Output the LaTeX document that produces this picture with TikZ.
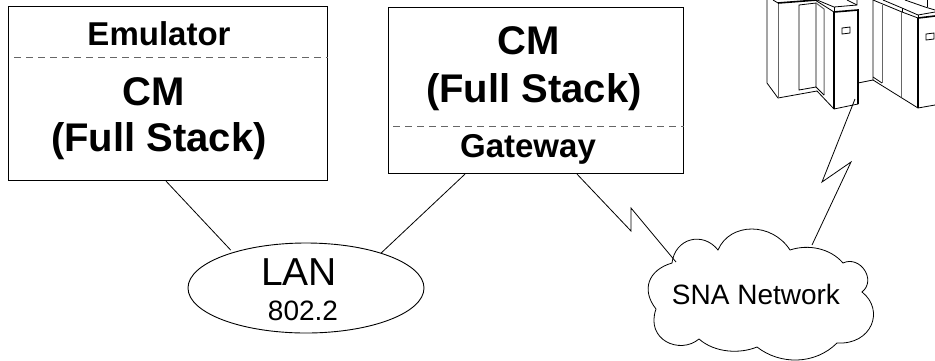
\documentclass[tikz,border=0pt]{standalone}
\usepackage{fontspec}
\setmainfont{Liberation Sans}
\usetikzlibrary{shapes.geometric}
\tikzset{
  x=1pt,y=-1pt,
  boxnode/.style={draw=black,line width=1.1pt,rectangle,inner sep=0pt,anchor=north west},
  lbl/.style={anchor=base,inner sep=0pt},
  bigb/.style={lbl,font=\fontsize{40}{40}\selectfont\bfseries},
  midb/.style={lbl,font=\fontsize{33}{33}\selectfont\bfseries},
  sep/.style={draw=black!60,line width=1pt,dash pattern=on 6.5pt off 5.5pt},
  link/.style={draw=black,line width=0.8pt,line join=miter},
  thin line/.style={draw=black,line width=0.8pt},
  gray line/.style={draw=black!60,line width=1pt},
  heavy/.style={draw=black,line width=1.6pt},
}
\begin{document}
\begin{tikzpicture}
\useasboundingbox (0,0) rectangle (935,360);
\clip (0,0) rectangle (935,360);
% boxes
\node[boxnode,minimum width=319pt,minimum height=174pt] (box1) at (8,6) {};
\node[boxnode,minimum width=295pt,minimum height=166pt] (box2) at (388,7) {};
\draw[sep] ([shift={(6pt,-51pt)}]box1.north west) -- ([yshift=-51pt]box1.north east);
\draw[sep] ([shift={(5pt,-119pt)}]box2.north west) -- ([yshift=-119pt]box2.north east);
\node[midb] (t1) at (159,45) {Emulator};
\node[bigb] (t2) at (154,105) {CM};
\node[bigb] (t3) at (159,151) {(Full Stack)};
\node[bigb] (t4) at (529,54) {CM};
\node[bigb] (t5) at (534,102) {(Full Stack)};
\node[midb] (t6) at (528,157) {Gateway};
% LAN
\node[ellipse,draw=black,line width=0.9pt,minimum width=236pt,minimum height=90pt,inner sep=0pt] (lan) at (306,288) {};
\node[lbl,font=\fontsize{39}{39}\selectfont] (t7) at (299,285) {LAN};
\node[lbl,font=\fontsize{28}{28}\selectfont] (t8) at (303,320) {802.2};
\draw[link,shorten >=3pt] ([xshift=158pt]box1.south west) -- (lan.154);
\draw[link] ([xshift=77pt]box2.south west) -- (lan.25);
% cloud
\draw[thin line,fill=white] (672,263)
  .. controls (675,238) and (703,231) .. (718,250)
  .. controls (730,222) and (772,222) .. (790,250)
  .. controls (808,244) and (830,248) .. (843,263)
  .. controls (860,255) and (877,280) .. (862,292)
  .. controls (885,310) and (872,345) .. (837,343)
  .. controls (815,365) and (780,365) .. (757,347)
  .. controls (740,354) and (715,353) .. (699,339)
  .. controls (680,355) and (645,340) .. (656,309)
  .. controls (641,290) and (648,270) .. (672,263) -- cycle;
\node[lbl,font=\fontsize{28}{28}\selectfont] (cloud) at (756,304) {SNA Network};
% mainframes
\coordinate (mf) at (855,99);
\coordinate (cl1) at (676,262);
\coordinate (cl2) at (812,245);
\draw[thin line] (767,0)--(767,83)--(778,98)--(817,91)--(834,109);
\draw[gray line] (778,3)--(778,98);
\draw[thin line] (773,0)--(778,3);
\draw[heavy] (778,3)--(817,0);
\draw[thin line] (799,5)--(816,3)--(816,87)--(799,90)--cycle;
\draw[gray line] (816,3)--(824,9)--(824,95);
\draw[thin line] (816,87)--(824,95);
\draw[thin line] (817,0)--(834,7)--(857,5)--(857,0);
\draw[thin line] (847,0)--(857,5);
\draw[thin line] (834,7)--(834,12);
\draw[thin line] (815,0)--(834,12);
\draw[heavy] (834,12)--(858,10)--(858,104);
\draw[heavy] (834,12)--(834,109);
\draw[thin line] (834,109)--(858,104);
\draw[thin line] (842,28)--(850,27)--(850,33)--(842,34)--cycle;
\draw[thin line] (858,83)--(873,80);
% right cabinet
\draw[thin line] (873,0)--(873,80)--(918,108)--(935,105);
\draw[gray line] (882,5)--(882,83);
\draw[thin line] (873,77)--(882,83);
\draw[thin line] (873,0)--(902,12)--(918,18);
\draw[thin line] (883,0)--(902,8)--(918,15);
\draw[thin line] (902,8)--(902,12);
\draw[gray line] (901,12)--(901,97);
\draw[heavy] (918,18)--(918,108);
\draw[heavy] (918,18)--(935,16);
\draw[thin line] (918,15)--(935,12);
\draw[thin line] (918,15)--(918,18);
\draw[thin line] (905,0)--(925,7)--(935,10);
\draw[thin line] (927,0)--(927,7);
\draw[thin line] (926,34)--(934,33)--(934,39)--(926,40)--cycle;
% lightning links
\draw[link] ([xshift=189pt]box2.south west) -- (631,231) -- (631,208) -- (cl1);
\draw[link] (cl2) -- (851,162) -- (822,182) -- (mf);
\end{tikzpicture}
\end{document}
